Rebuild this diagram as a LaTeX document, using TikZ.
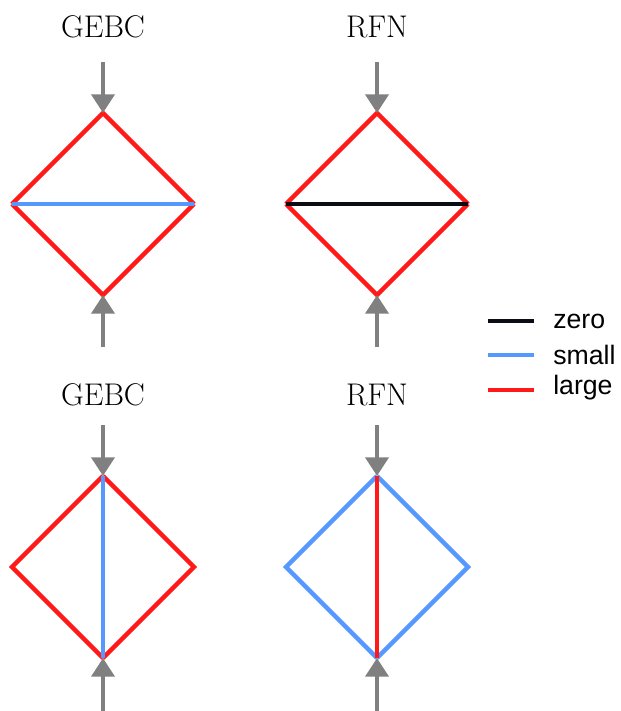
\documentclass[tikz,border=0pt]{standalone}
\usepackage{fontspec}
\newfontfamily\legendfont{Liberation Sans}
\usetikzlibrary{arrows.meta}
\definecolor{zerocol}{RGB}{10,14,20}
\definecolor{smallcol}{RGB}{85,153,255}
\definecolor{largecol}{RGB}{255,25,25}
\definecolor{flowcol}{RGB}{128,128,128}
\tikzset{
  edge/.style={line width=3.2pt, line cap=butt, line join=miter},
  zeroedge/.style={edge, draw=zerocol},
  smalledge/.style={edge, draw=smallcol},
  largeedge/.style={edge, draw=largecol},
  flow/.style={draw=flowcol, line width=3.6pt,
    -{Triangle[length=14pt, width=17pt, fill=flowcol]}},
  title/.style={font=\fontsize{23.5}{28}\selectfont, inner sep=0pt},
  legendtext/.style={font=\legendfont\fontsize{20}{24}\selectfont, anchor=west, inner sep=0pt}
}
\begin{document}
\begin{tikzpicture}[x=0.75pt, y=-0.75pt]
  \useasboundingbox (0,0) rectangle (621,711);

  % vertices of the four diamonds: T(op), L(eft), R(ight), B(ottom)
  \foreach \n/\cx/\cy in {a/103/204, b/377/204, c/103/567, d/377/567} {
    \coordinate (\n T) at (\cx,\cy-91);
    \coordinate (\n L) at (\cx-91,\cy);
    \coordinate (\n R) at (\cx+91,\cy);
    \coordinate (\n B) at (\cx,\cy+91);
    \coordinate (\n in) at (\cx,\cy-142);
  }
  \coordinate (aout) at (103,347);
  \coordinate (bout) at (377,347);
  \coordinate (cout) at (103,711);
  \coordinate (dout) at (377,711);

  % titles
  \node[title] (ta) at (103,27) {GEBC};
  \node[title] (tb) at (377,27) {RFN};
  \node[title] (tc) at (103,395) {GEBC};
  \node[title] (td) at (377,395) {RFN};

  % top left: GEBC
  \draw[largeedge] (aL) -- (aT) -- (aR);
  \draw[largeedge] (aL) -- (aB) -- (aR);
  \draw[smalledge] (aL) -- (aR);

  % top right: RFN
  \draw[largeedge] (bL) -- (bT) -- (bR);
  \draw[largeedge] (bL) -- (bB) -- (bR);
  \draw[zeroedge] (bL) -- (bR);

  % bottom left: GEBC
  \draw[largeedge] (cT) -- (cL) -- (cB);
  \draw[largeedge] (cT) -- (cR) -- (cB);
  \draw[smalledge] (cT) -- (cB);

  % bottom right: RFN
  \draw[smalledge] (dT) -- (dL) -- (dB);
  \draw[smalledge] (dT) -- (dR) -- (dB);
  \draw[largeedge] (dT) -- (dB);

  % inflow arrows
  \foreach \n in {a,b,c,d} {
    \draw[flow] (\n in) -- (\n T);
    \draw[flow] (\n out) -- (\n B);
  }

  % legend
  \coordinate (lz1) at (488,321); \coordinate (lz2) at (534,321);
  \coordinate (ls1) at (488,355); \coordinate (ls2) at (534,355);
  \coordinate (ll1) at (488,390); \coordinate (ll2) at (534,390);
  \draw[zeroedge] (lz1) -- (lz2);
  \draw[smalledge] (ls1) -- (ls2);
  \draw[largeedge] (ll1) -- (ll2);
  \node[legendtext] (lzt) at (553,321) {zero};
  \node[legendtext] (lst) at (553,355) {small};
  \node[legendtext] (llt) at (553,388) {large};
\end{tikzpicture}
\end{document}
